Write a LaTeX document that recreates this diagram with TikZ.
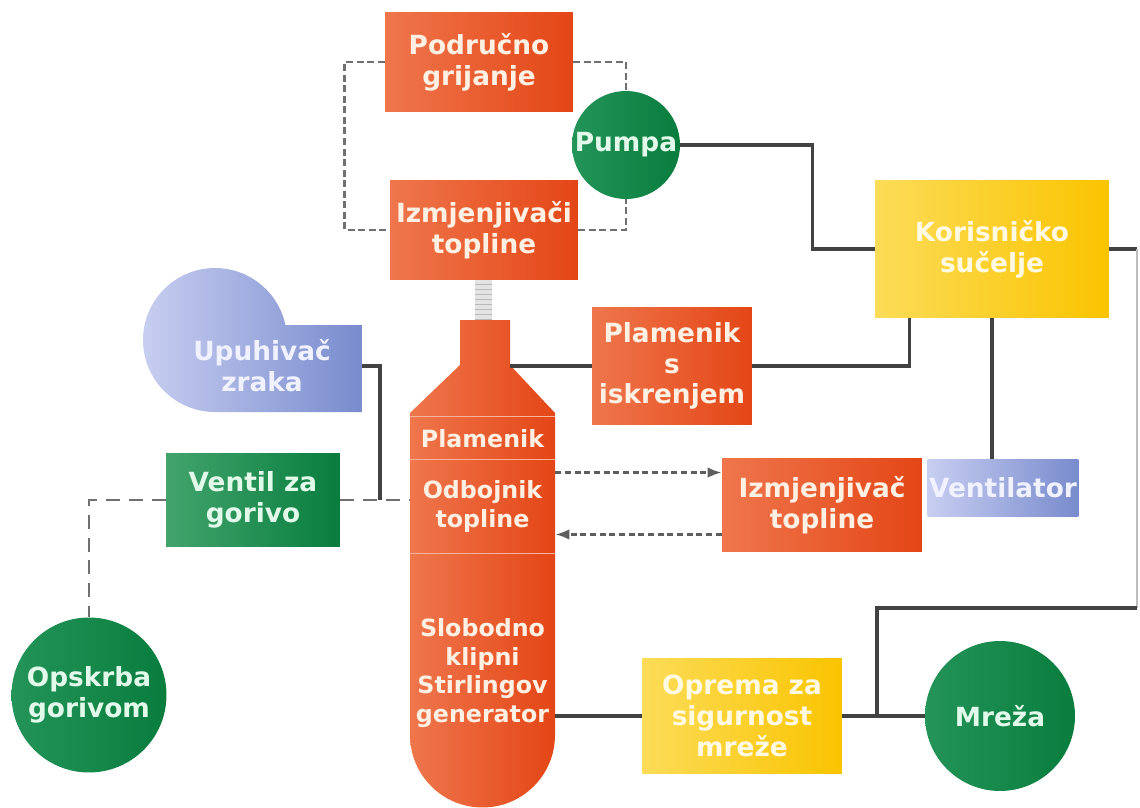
\documentclass[tikz,border=0pt]{standalone}
\usepackage{fontspec}
\setmainfont{DejaVu Sans}
\usepackage{tikz}
\usetikzlibrary{arrows.meta}
\definecolor{redL}{RGB}{239,118,76}
\definecolor{redD}{RGB}{228,70,22}
\definecolor{greenL}{RGB}{66,164,108}
\definecolor{greenM}{RGB}{36,148,88}
\definecolor{greenD}{RGB}{8,125,62}
\definecolor{yelL}{RGB}{252,220,88}
\definecolor{yelD}{RGB}{250,196,0}
\definecolor{bluL}{RGB}{200,206,241}
\definecolor{bluD}{RGB}{120,139,205}
\definecolor{wireC}{RGB}{66,66,66}
\definecolor{dashC}{RGB}{112,112,112}
\definecolor{txtR}{RGB}{255,240,228}
\definecolor{txtG}{RGB}{226,250,234}
\definecolor{txtY}{RGB}{255,250,226}
\definecolor{txtB}{RGB}{240,242,255}
\newcommand\lblfont{\fontsize{15}{17.5}\selectfont\bfseries}
\newcommand\towerfont{\fontsize{13.5}{16.3}\selectfont\bfseries}
\tikzset{wire/.style={draw=wireC, line width=2pt}}
\tikzset{loopline/.style={draw=dashC, line width=1.5pt, dash pattern=on 4pt off 2pt}}
\tikzset{fuelline/.style={draw=dashC, line width=1.6pt, dash pattern=on 8pt off 5pt}}
\tikzset{heatline/.style={draw=wireC!85, line width=1.4pt, dash pattern=on 3.5pt off 2pt, -{Latex[length=8pt,width=6pt]}}}
\tikzset{lbl/.style={font=\lblfont, align=center, inner sep=0pt}}
\tikzset{redbox/.style={lbl, rectangle, left color=redL, right color=redD, text=txtR}}
\tikzset{greenbox/.style={lbl, rectangle, left color=greenL, right color=greenD, text=txtG}}
\tikzset{greencirc/.style={lbl, circle, left color=greenM, right color=greenD, text=txtG}}
\tikzset{yelbox/.style={lbl, rectangle, left color=yelL, right color=yelD, text=txtY}}
\tikzset{blubox/.style={lbl, rectangle, left color=bluL, right color=bluD, text=txtB}}
\tikzset{towertxt/.style={lbl, font=\towerfont, text=txtR, minimum width=2.9cm}}

\begin{document}
\begin{tikzpicture}[x=0.02cm, y=-0.02cm]
\fill[white] (0,0) rectangle (1140,808);
\useasboundingbox (0,0) rectangle (1140,808);

\node[redbox, minimum width=3.76cm, minimum height=2cm] (grij) at (479,62) {Područno\\grijanje};
\node[redbox, minimum width=3.76cm, minimum height=2cm] (izmj) at (484,230) {Izmjenjivači\\topline};
\node[greencirc, minimum size=2.16cm] (pumpa) at (626,145) {Pumpa};
\node[yelbox, minimum width=4.68cm, minimum height=2.76cm] (koris) at (992,249) {Korisničko\\sučelje};
\node[redbox, minimum width=3.2cm, minimum height=2.36cm] (iskr) at (672,366) {Plamenik\\s\\iskrenjem};
\node[redbox, minimum width=4cm, minimum height=1.88cm] (izmjt) at (822,505) {Izmjenjivač\\topline};
\node[blubox, minimum width=3.02cm, minimum height=1.16cm] (vent) at (1003,488) {Ventilator};
\node[greenbox, minimum width=3.48cm, minimum height=1.86cm] (ventil) at (253,500) {Ventil za\\gorivo};
\node[greencirc, minimum size=3.1cm] (opskrba) at (89,695) {Opskrba\\gorivom};
\node[yelbox, minimum width=4cm, minimum height=2.32cm] (sig) at (742,716) {Oprema za\\sigurnost\\mreže};
\node[greencirc, minimum size=3cm] (mreza) at (1000,716) {Mreža};

% air blower
\shade[left color=bluL, right color=bluD] (362,325) -- (362,412) -- (215,412)
  arc[start angle=270, end angle=12, radius=1.44cm] -- cycle;
\node[lbl, text=txtB] (upuh) at (262,366) {Upuhivač\\zraka};
\coordinate (upuhout) at (362,366);

% stirling tower
\fill[gray!22] (475,280) rectangle (492,322);
\foreach \k in {284,289,...,319}
  \draw[gray!55, line width=0.5pt] (475,\k) -- (492,\k);
\shade[left color=redL, right color=redD] (460,320) -- (510,320) -- (510,365) -- (555,413)
  -- (555,735) arc[start angle=0, end angle=-180, radius=1.45cm] -- (410,413) -- (460,365) -- cycle;
\node[towertxt, minimum height=0.86cm] (plam) at (482.5,438.5) {Plamenik};
\node[towertxt, minimum height=1.86cm] (odboj) at (482.5,506.5) {Odbojnik\\topline};
\node[towertxt, minimum height=4.8cm] (stirl) at (482.5,673) {Slobodno\\klipni\\Stirlingov\\generator};
\draw[redL!55!white, line width=0.8pt] (plam.north west) -- (plam.north east);
\draw[redL!55!white, line width=0.8pt] (odboj.north west) -- (odboj.north east);
\draw[redL!55!white, line width=0.8pt] (odboj.south west) -- (odboj.south east);
\coordinate (neckR) at (510,366);
\coordinate (edgeT) at (1137,249);
\coordinate (edgeB) at (1137,608);
\coordinate (junc) at (877,716);

\draw[loopline] (grij.west) -- ++(-40,0) |- (izmj.west);
\draw[loopline] (grij.east) -| (pumpa.north);
\draw[loopline] (izmj.east) -| (pumpa.south);

\draw[wire] (pumpa.east) -- ++(132,0) |- (koris.west);
\draw[wire] (neckR) -- (iskr.west);
\draw[wire] (iskr.east) -| (koris.220);
\draw[wire] (koris.south) -- (koris.south |- vent.north);
\draw[wire] (koris.east) -- (edgeT);
\draw[draw=wireC!35, line width=1pt] (edgeT) -- (edgeB);
\draw[wire] (stirl.east |- sig.west) -- (sig.west);
\draw[wire] (sig.east) -- (mreza.west);
\draw[wire] (junc) |- (edgeB);
\draw[wire] (upuhout) -- ++(18,0) -- ++(0,134);

\draw[fuelline] (ventil.east) -- (ventil.east -| odboj.west);
\draw[fuelline] (ventil.west) -| (opskrba.north);

\draw[heatline] (odboj.25) -- (odboj.25 -| izmjt.west);
\draw[heatline] (odboj.-21 -| izmjt.west) -- (odboj.-21);
\end{tikzpicture}
\end{document}
